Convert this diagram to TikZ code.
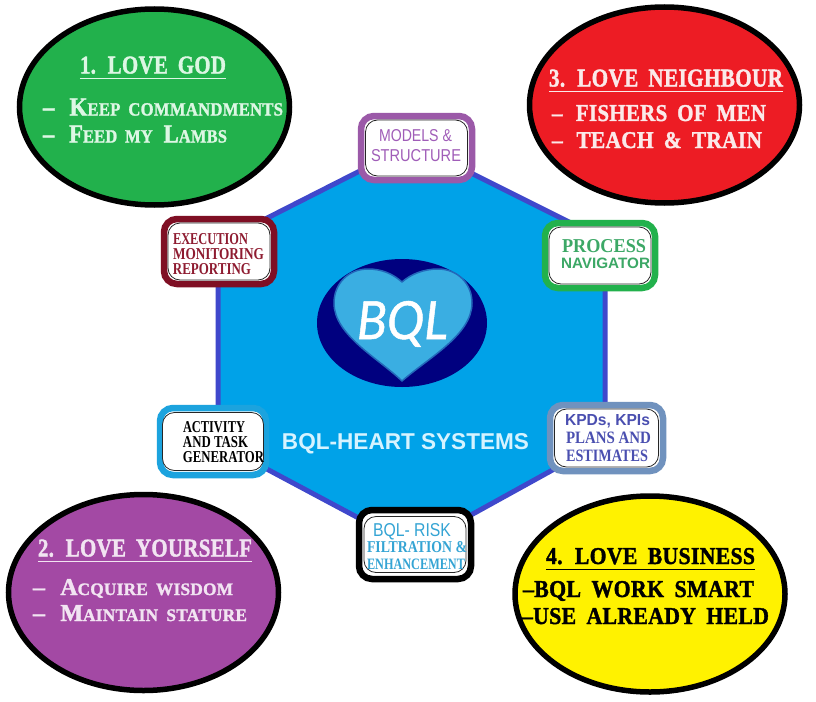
\documentclass[tikz,border=0pt]{standalone}
\usepackage{fontspec}
\usepackage{graphicx}
\usetikzlibrary{shapes.geometric,calc}
\setmainfont{Liberation Serif}
\newfontfamily\engr[LetterSpace=1.5,WordSpace=1.8,BoldFeatures={FakeBold=1.6}]{Liberation Serif}
\newfontfamily\sserif{Liberation Sans}
\newfontfamily\hand[ItalicFeatures={FakeBold=1}]{Lato}
\definecolor{hexfill}{HTML}{00A2E8}
\definecolor{hexline}{HTML}{3F48CC}
\definecolor{cgreen}{HTML}{22B14C}
\definecolor{cred}{HTML}{ED1C24}
\definecolor{cpurple}{HTML}{A349A4}
\definecolor{cyellow}{HTML}{FFF200}
\definecolor{navyd}{HTML}{00007F}
\definecolor{heartc}{HTML}{3AAEE2}
\definecolor{bpurple}{HTML}{9B59A8}
\definecolor{bmaroon}{HTML}{7F0F24}
\definecolor{bgreen}{HTML}{22B14C}
\definecolor{bsteel}{HTML}{7092BE}
\definecolor{bblue}{HTML}{1CA3DE}
\definecolor{tmaroon}{HTML}{8E1B30}
\definecolor{tgreen}{HTML}{3CA866}
\definecolor{tpurple}{HTML}{A05DB8}
\definecolor{tindigo}{HTML}{4A4FB0}
\definecolor{tsky}{HTML}{34A4D4}
\definecolor{pgreen}{HTML}{DDF7E4}
\definecolor{pred}{HTML}{FBE9E9}
\definecolor{ppurple}{HTML}{F2E4F2}
\definecolor{psky}{HTML}{D6F3FF}
\newcommand\sm[1]{{\fontsize{7.2}{8}\selectfont #1}}
% name, x1, x2, y centre, cap height, colour, text
\newcommand\lbl[7]{%
  \pgfmathsetmacro\lblw{#3-#2}%
  \node[inner sep=0pt,anchor=center,text=#6] (#1) at ({(#2+#3)/2},#4)
    {\raisebox{0pt}[\height][0pt]{\resizebox{\lblw pt}{#5 pt}{#7}}};}
\tikzset{
  circ/.style={ellipse,draw=black,line width=5.5pt,inner sep=0pt},
  outerbox/.style={draw=#1,line width=6.5pt,fill=white,rounded corners=13pt,inner sep=0pt},
  innerbox/.style={draw=black!85,line width=.8pt,fill=white,rounded corners=12pt,inner sep=0pt},
  ul/.style={line width=1.2pt}
}
\begin{document}
\begin{tikzpicture}[x=1pt,y=-1pt]
\useasboundingbox[fill=white] (0,0) rectangle (816,701);
% hexagon
\draw[fill=hexfill,draw=hexline,line width=5pt,line join=round]
  (413,144) -- (605,240) -- (605,441) -- (413,547) -- (218,443) -- (218,243) -- cycle;
% heart
\node[ellipse,fill=navyd,minimum width=170pt,minimum height=128pt,inner sep=0pt] (he) at (402,323) {};
\draw[fill=heartc,draw=heartc!60!navyd,line width=1.5pt,line join=round]
  (402,282) .. controls (393,274) and (382,269) .. (368,269)
  .. controls (348,269) and (334,284) .. (334,303)
  .. controls (334,335) and (378,358) .. (402,381)
  .. controls (428,358) and (472,335) .. (472,303)
  .. controls (472,284) and (458,269) .. (438,269)
  .. controls (424,269) and (411,274) .. (402,282) -- cycle;
\lbl{bql}{357}{448}{320}{38}{white}{\hand\itshape BQL}
% ellipses
\node[circ,fill=cgreen,minimum width=270pt,minimum height=196pt] (e1) at (154.5,107) {};
\node[circ,fill=cred,minimum width=270pt,minimum height=196pt] (e3) at (664.5,105) {};
\node[circ,fill=cpurple,minimum width=270pt,minimum height=196pt] (e2) at (143.5,592.5) {};
\node[circ,fill=cyellow,minimum width=270pt,minimum height=196pt] (e4) at (650,594) {};
% ellipse 1
\lbl{t1}{80}{226}{65}{17}{pgreen}{\engr\bfseries 1. LOVE GOD}
\draw[ul,pgreen] ($(t1.south west)+(0,5)$) -- ($(t1.south east)+(0,5)$);
\lbl{a1}{43}{283}{107}{17}{pgreen}{\engr\bfseries –\, K\sm{EEP COMMANDMENTS}}
\lbl{a2}{43}{227}{134}{17}{pgreen}{\engr\bfseries –\, F\sm{EED MY} L\sm{AMBS}}
% ellipse 3
\lbl{t3}{549}{783}{78}{17}{pred}{\engr\bfseries 3. LOVE NEIGHBOUR}
\draw[ul,pred] ($(t3.south west)+(0,5)$) -- ($(t3.south east)+(0,5)$);
\lbl{c1}{552}{766}{113}{16}{pred}{\engr\bfseries –\, FISHERS OF MEN}
\lbl{c2}{552}{762}{140}{16}{pred}{\engr\bfseries –\, TEACH \& TRAIN}
% ellipse 2
\lbl{t2}{38}{252}{548}{17}{ppurple}{\engr\bfseries 2. LOVE YOURSELF}
\draw[ul,ppurple] ($(t2.south west)+(0,5)$) -- ($(t2.south east)+(0,5)$);
\lbl{b1}{33}{233}{587}{16}{ppurple}{\engr\bfseries –\, A\sm{CQUIRE WISDOM}}
\lbl{b2}{33}{247}{613}{16}{ppurple}{\engr\bfseries –\, M\sm{AINTAIN STATURE}}
% ellipse 4
\lbl{t4}{546}{755}{556}{16}{black}{\engr\bfseries 4. LOVE BUSINESS}
\draw[ul,black] ($(t4.south west)+(0,5)$) -- ($(t4.south east)+(0,5)$);
\lbl{d1}{523}{754}{589}{16}{black}{\engr\bfseries –BQL WORK SMART}
\lbl{d2}{522}{769}{616}{16}{black}{\engr\bfseries –USE ALREADY HELD}
% boxes
\node[outerbox=bpurple,minimum width=111pt,minimum height=64pt] (mo) at (416.5,148) {};
\node[innerbox,minimum width=102pt,minimum height=56pt] (mi) at (416.5,148) {};
\node[outerbox=bmaroon,minimum width=110pt,minimum height=65pt] (xo) at (219,251.5) {};
\node[innerbox,minimum width=102pt,minimum height=57pt] (xi) at (219,251.5) {};
\node[outerbox=bgreen,minimum width=110pt,minimum height=65pt] (po) at (600,255.5) {};
\node[innerbox,minimum width=102pt,minimum height=57pt] (pi) at (600,255.5) {};
\node[outerbox=bsteel,minimum width=113pt,minimum height=66pt] (ko) at (606.5,438) {};
\node[innerbox,minimum width=104pt,minimum height=58pt] (ki) at (606.5,438) {};
\node[outerbox=bblue,minimum width=106pt,minimum height=67pt] (ao) at (213,441.5) {};
\node[innerbox,minimum width=101pt,minimum height=58pt] (ai) at (213,441.5) {};
\node[outerbox=black,minimum width=112pt,minimum height=69pt] (ro) at (415,544.5) {};
\node[innerbox,minimum width=102pt,minimum height=56pt] (ri) at (415,544.5) {};
% box labels
\lbl{m1}{379}{452}{135}{12}{tpurple}{\sserif MODELS \&}
\lbl{m2}{371}{461}{155}{12}{tpurple}{\sserif STRUCTURE}
\lbl{x1}{173}{248}{239}{11}{tmaroon}{\bfseries EXECUTION}
\lbl{x2}{173}{264}{254}{11}{tmaroon}{\bfseries MONITORING}
\lbl{x3}{173}{251}{269}{11}{tmaroon}{\bfseries REPORTING}
\lbl{p1}{562}{646}{246}{13}{tgreen}{\bfseries PROCESS}
\lbl{p2}{561}{650}{263}{10.5}{tgreen}{\sserif\bfseries NAVIGATOR}
\lbl{k1}{565}{650}{420}{11}{tindigo}{\sserif\bfseries KPDs, KPIs}
\lbl{k2}{566}{651}{438}{11.5}{tindigo}{\bfseries PLANS AND}
\lbl{k3}{566}{648}{456}{11.5}{tindigo}{\bfseries ESTIMATES}
\lbl{g1}{183}{245}{427}{11}{black}{\bfseries ACTIVITY}
\lbl{g2}{183}{248}{442}{11}{black}{\bfseries AND TASK}
\lbl{g3}{183}{264}{457}{11}{black}{\bfseries GENERATOR}
\lbl{r1}{373}{451}{530}{13}{tsky}{\sserif BQL- RISK}
\lbl{r2}{367}{467}{547}{11}{tsky}{\bfseries FILTRATION \&}
\lbl{r3}{367}{465}{564}{10.5}{tsky}{\bfseries ENHANCEMENT}
\lbl{hs}{282}{529}{441}{16}{psky}{\sserif\bfseries BQL-HEART SYSTEMS}
\end{tikzpicture}
\end{document}
